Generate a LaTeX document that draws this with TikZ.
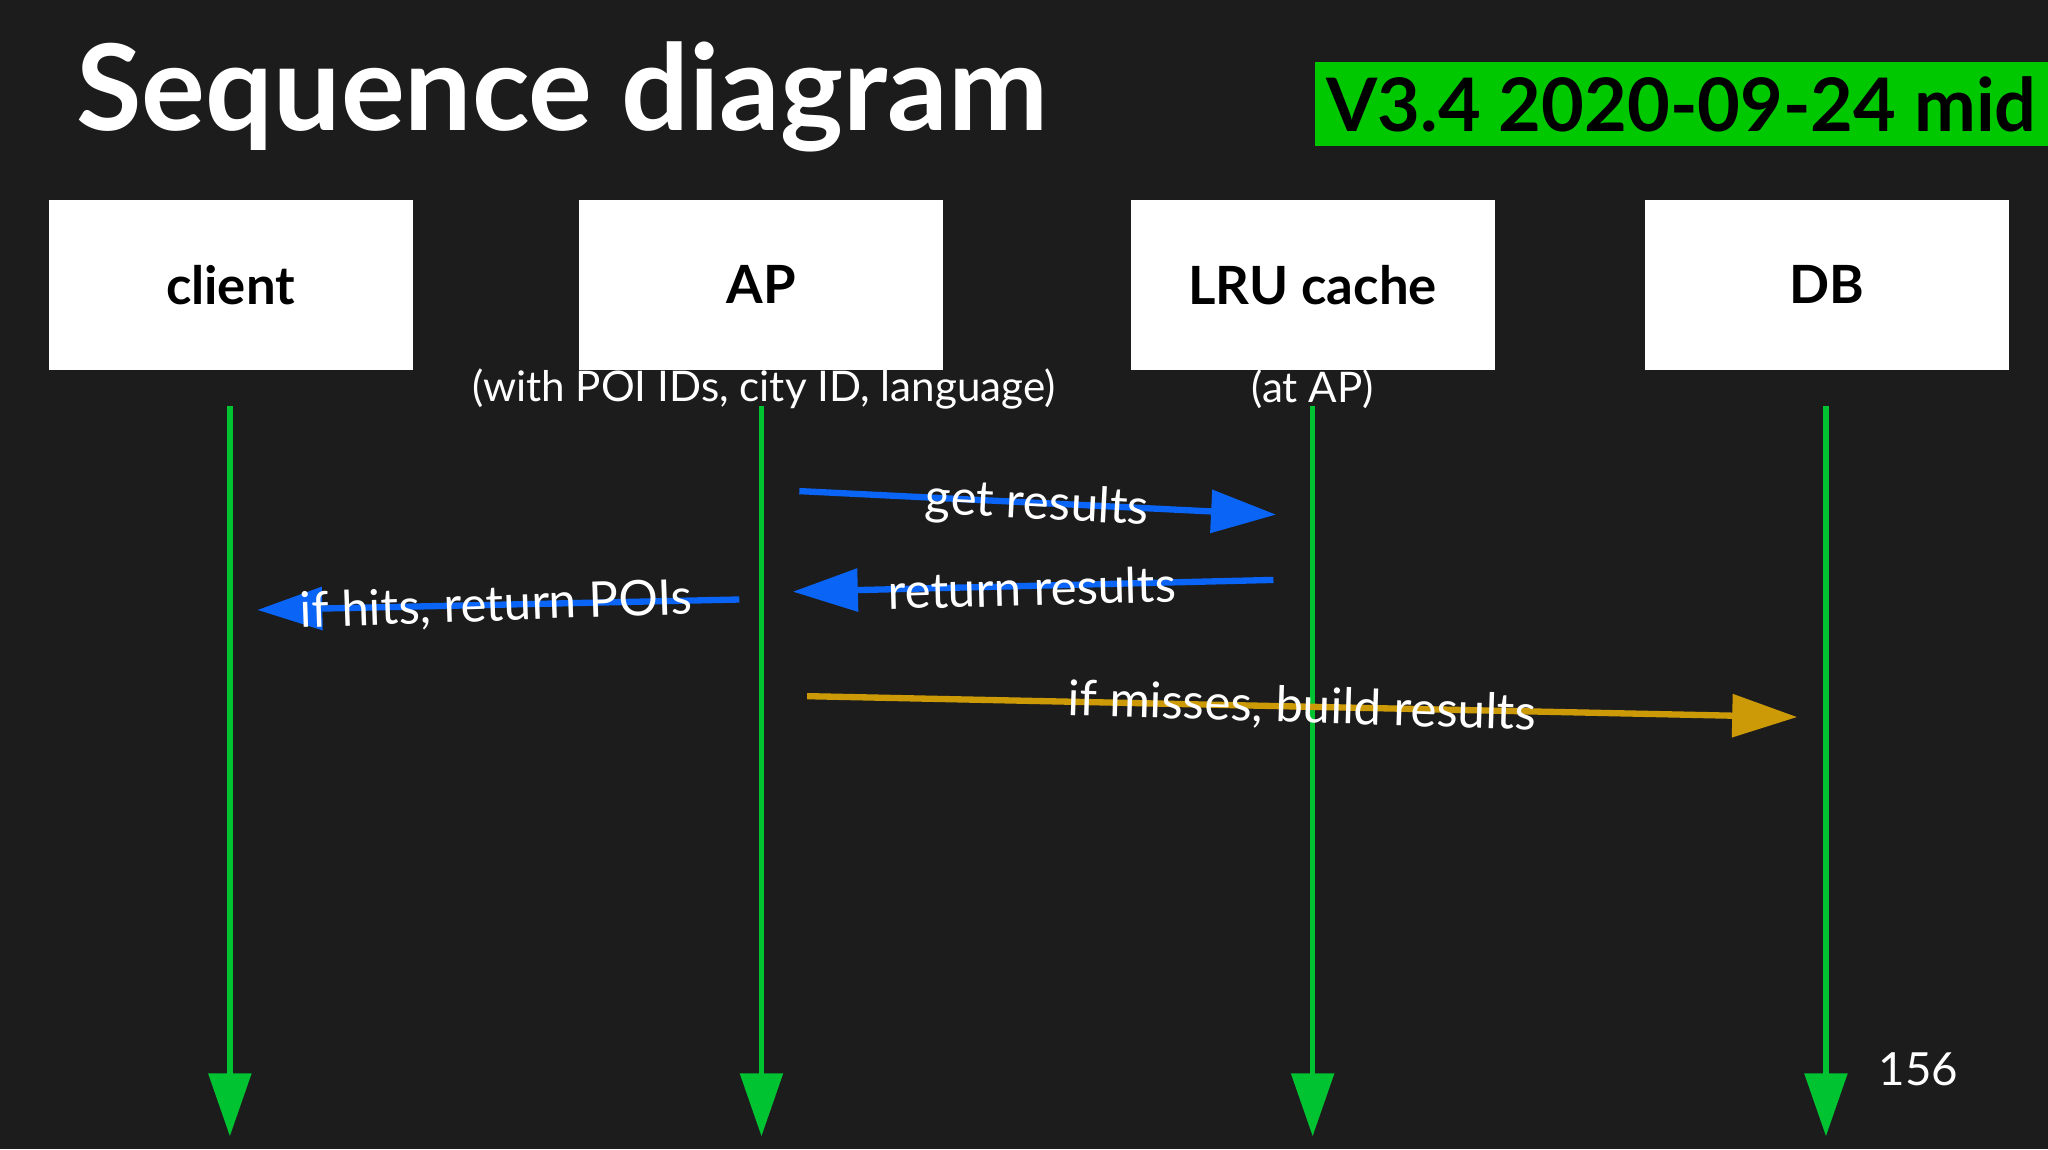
\documentclass[tikz,border=0pt]{standalone}
\usepackage{fontspec}
\setmainfont{Lato}
\usetikzlibrary{arrows.meta}
\definecolor{bg}{HTML}{1C1C1D}
\definecolor{lgreen}{HTML}{00C332}
\definecolor{tagg}{HTML}{00C800}
\definecolor{mblue}{HTML}{0A64F5}
\definecolor{mgold}{HTML}{CC9A06}
\tikzset{
 actor/.style={fill=white,draw=none,minimum width=3.64cm,minimum height=1.70cm,font=\fontsize{15}{18}\selectfont\bfseries,text=black},
 life/.style={lgreen,line width=1.6pt,-{Triangle[length=0.63cm,width=0.42cm]}},
 msg/.style={line width=1.8pt,-{Triangle[length=0.65cm,width=0.42cm]}},
 lbl/.style={text=white,font=\fontsize{14}{16}\selectfont},
 note/.style={text=white,font=\fontsize{12}{14}\selectfont}
}
\begin{document}
\begin{tikzpicture}[x=0.01306cm,y=-0.01306cm]
\fill[bg] (0,0) rectangle (1568,880);
\useasboundingbox (0,0) rectangle (1568,880);
\node[anchor=base west,text=white,font=\fontsize{34}{40}\selectfont\bfseries,inner sep=0] (title) at (58,100) {Sequence diagram};
\node[fill=tagg,minimum width=6.23cm,minimum height=0.84cm,font=\fontsize{21}{24}\selectfont\bfseries,text=black] (ver) at (1287.5,80) {V3.4 2020-09-24 mid};
\node[actor] (client) at (176.5,218) {client};
\node[actor] (ap) at (583,218) {AP};
\node[actor] (lru) at (1005,218) {LRU cache};
\node[actor] (db) at (1398.5,218) {DB};
\node[note] (n1) at (585,298) {(with POI IDs, city ID, language)};
\node[note] (n2) at (1005,298) {(at AP)};
\foreach \n/\x in {client/176,ap/583,lru/1005,db/1398}{
 \coordinate (\n-s) at (\x,311); \coordinate (\n-e) at (\x,870);
 \draw[life] (\n-s) -- (\n-e);}
\coordinate (a1) at (612,376); \coordinate (b1) at (977,394);
\coordinate (a2) at (975,444); \coordinate (b2) at (607,453);
\coordinate (a3) at (566,459); \coordinate (b3) at (197,467);
\coordinate (a4) at (618,533); \coordinate (b4) at (1376,549);
\draw[msg,mblue] (a1) -- (b1);
\draw[msg,mblue] (a2) -- (b2);
\draw[msg,mblue] (a3) -- (b3);
\draw[msg,mgold] (a4) -- (b4);
\node[lbl,rotate=-3] (l1) at (794,387) {get results};
\node[lbl,rotate=1.5] (l2) at (790,450) {return results};
\node[lbl,rotate=2] (l3) at (380,464) {if hits, return POIs};
\node[lbl,rotate=-1.8] (l4) at (997,542) {if misses, build results};
\node[note,font=\fontsize{13}{15}\selectfont] (pg) at (1469,819) {156};
\end{tikzpicture}
\end{document}
